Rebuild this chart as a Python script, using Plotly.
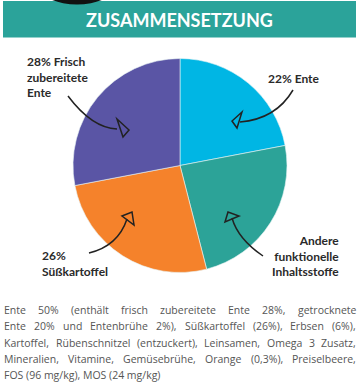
import json
import plotly.graph_objects as go

W, H = 359, 389

# ---- data ----
categories = ["Ente", "Andere funktionelle Inhaltsstoffe", "Süßkartoffel", "Frisch zubereitete Ente"]
values = [22, 24, 26, 28]
slice_colors = ["#00B6E4", "#2CA398", "#F5822B", "#5A55A5"]

title_text = "ZUSAMMENSETZUNG"
label_texts = ["22% Ente", "Andere<br>funktionelle<br>Inhaltsstoffe", "26%<br>Süßkartoffel", "28% Frisch<br>zubereitete<br>Ente"]

body_lines = [
    ["Ente", "50%", "(enthält", "frisch", "zubereitete", "Ente", "28%,", "getrocknete"],
    ["Ente", "20%", "und", "Entenbrühe", "2%),", "Süßkartoffel", "(26%),", "Erbsen", "(6%),"],
    ["Kartoffel,", "Rübenschnitzel", "(entzuckert),", "Leinsamen,", "Omega", "3", "Zusatz,"],
    ["Mineralien,", "Vitamine,", "Gemüsebrühe,", "Orange", "(0,3%),", "Preiselbeere,"],
    ["FOS (96 mg/kg), MOS (24 mg/kg)"],
]
# layout: approximate word start positions (px); lines 1-4 are justified in the browser
body_word_x = [
    [3, 37, 70, 120, 157, 221, 254, 290],
    [3, 30, 57, 81, 138, 166, 232, 270, 310],
    [3, 50, 126, 196, 255, 295, 305],
    [3, 66, 119, 202, 247, 299],
    [3],
]
body_line_y = [310, 326.2, 342.5, 358.7, 375]


def px(x):
    return x / W


def py(y):
    return 1 - y / H


def P(x, y):
    return f"{px(x):.5f},{py(y):.5f}"


fig = go.Figure()

cx, cy, r = 180, 165.5, 107
fig.add_trace(go.Pie(
    labels=categories,
    values=values,
    sort=False,
    direction="clockwise",
    rotation=0,
    textinfo="none",
    hoverinfo="label+percent",
    marker=dict(colors=slice_colors, line=dict(color="#e8f4f4", width=0.6)),
    domain=dict(x=[px(cx - r), px(cx + r)], y=[py(cy + r), py(cy - r)]),
    showlegend=False,
))

shapes = []
shapes.append(dict(type="rect", xref="paper", yref="paper",
                   x0=px(3), x1=px(356), y0=py(37.5), y1=py(1),
                   fillcolor="#2BA39A", line=dict(width=0), layer="below"))
shapes.append(dict(type="circle", xref="paper", yref="paper",
                   x0=px(6), x1=px(148), y0=py(4.5), y1=py(-138),
                   fillcolor="#111111", line=dict(width=0), layer="below"))

arrow_line = dict(color="#222222", width=1.5)
curves = [
    ((68, 96), (92, 128), (117, 129)),
    ((293, 90), (276, 119), (240, 122)),
    ((89, 253), (118, 246), (127, 219)),
    ((263, 256), (238, 239), (232, 218)),
]
heads = [
    [(117, 119), (129, 130), (123, 137)],
    [(242, 112), (232, 121), (237, 128)],
    [(122, 216), (132, 212), (134, 225)],
    [(225, 222), (228, 212), (239, 216)],
]
for (a, c, b) in curves:
    shapes.append(dict(type="path", xref="paper", yref="paper",
                       path=f"M{P(*a)} Q{P(*c)} {P(*b)}", line=arrow_line))
for h in heads:
    shapes.append(dict(type="path", xref="paper", yref="paper",
                       path=f"M{P(*h[0])} L{P(*h[1])} L{P(*h[2])} Z",
                       line=dict(color="#222222", width=1.5), fillcolor="rgba(0,0,0,0)"))

annotations = []
annotations.append(dict(text=title_text, x=px(179), y=py(19.5), xref="paper", yref="paper",
                        xanchor="center", yanchor="middle", showarrow=False,
                        font=dict(family="Lato", size=18, color="white", weight="bold")))

label_font = dict(family="Lato", size=12, color="#2a2a2a", weight="bold")
label_pos = [
    (266, 78, "left", "left"),
    (341, 256, "right", "right"),
    (40, 263, "left", "left"),
    (25, 77, "left", "left"),
]
for t, (x, y, xa, al) in zip(label_texts, label_pos):
    annotations.append(dict(text=t, x=px(x), y=py(y), xref="paper", yref="paper",
                            xanchor=xa, yanchor="middle", align=al, showarrow=False,
                            font=label_font))

body_font = dict(family="Open Sans", size=10.5, color="#555555")
justify_groups = []
for li, (words, xs, y) in enumerate(zip(body_lines, body_word_x, body_line_y)):
    idxs = []
    for w, x in zip(words, xs):
        idxs.append(len(annotations))
        annotations.append(dict(text=w, x=px(x - 1), y=py(y), xref="paper", yref="paper",
                                xanchor="left", yanchor="middle", showarrow=False,
                                font=body_font))
    if li < len(body_lines) - 1:
        justify_groups.append(idxs)

fig.update_layout(
    width=W, height=H,
    margin=dict(l=0, r=0, t=0, b=0),
    paper_bgcolor="white",
    plot_bgcolor="white",
    shapes=shapes,
    annotations=annotations,
)

js = """
document.body.style.margin='0';
document.body.style.overflow='hidden';
var gd=document.getElementById('{plot_id}');
var groups=__GROUPS__; var L=3, R=355, W=__W__; var upd={};
groups.forEach(function(g){
  var ws=g.map(function(i){
    var n=gd.querySelector('g.annotation[data-index="'+i+'"] text.annotation-text');
    return n ? n.getComputedTextLength() : 0;
  });
  if (ws.some(function(v){return v===0;})) return;
  var tot=ws.reduce(function(a,b){return a+b;},0);
  var gap=(R-L-tot)/(g.length-1); var x=L;
  g.forEach(function(i,k){ upd['annotations['+i+'].x']=(x-1)/W; x+=ws[k]+gap; });
});
if (Object.keys(upd).length) { Plotly.relayout(gd, upd); }
""".replace("__GROUPS__", json.dumps(justify_groups)).replace("__W__", str(W))

fig.write_html("out.html", post_script=js, config={"displayModeBar": False})
